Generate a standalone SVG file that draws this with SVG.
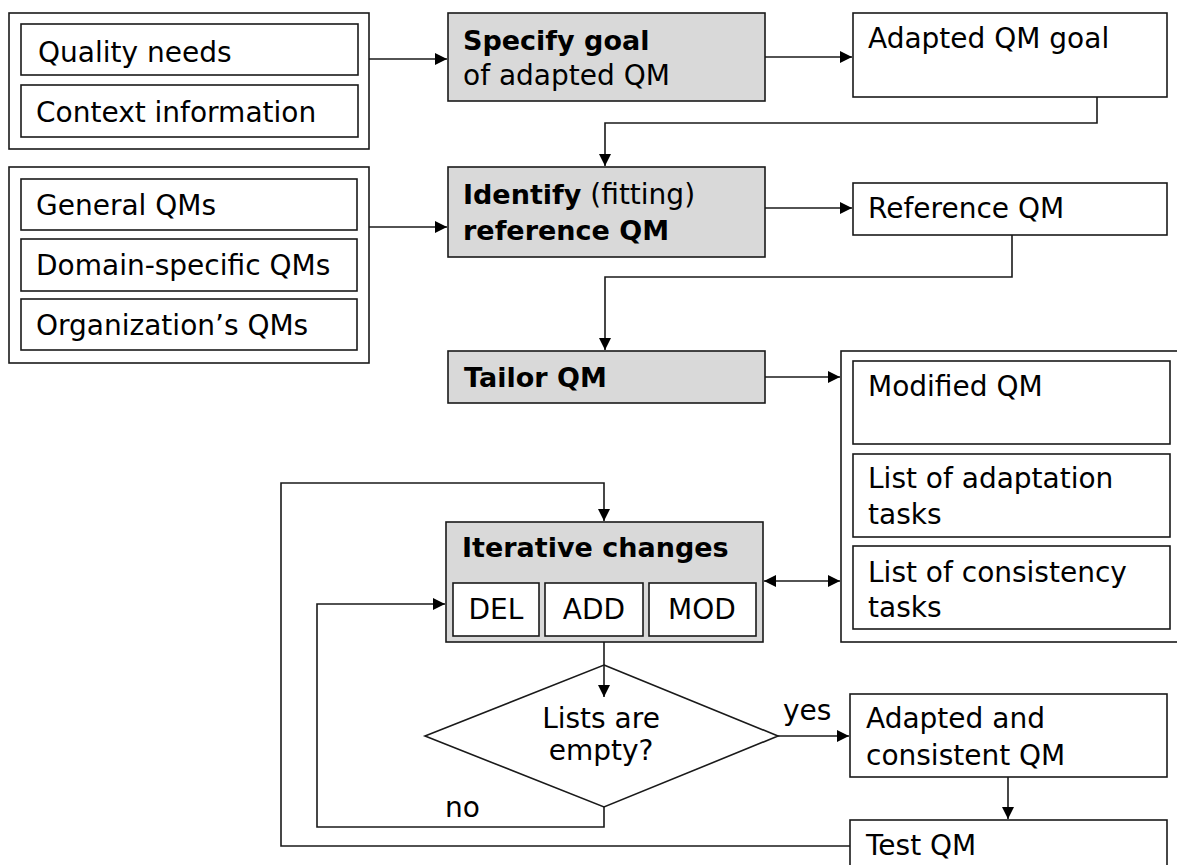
<svg xmlns="http://www.w3.org/2000/svg" width="1177" height="865" viewBox="0 0 1177 865">
<style>
text{font-family:"DejaVu Sans","Liberation Sans",sans-serif;font-size:28px;fill:#000}
.b{font-weight:bold;font-size:27px}
.box{fill:#fff;stroke:#1a1a1a;stroke-width:1.6}
.act{fill:#d9d9d9;stroke:#1a1a1a;stroke-width:1.6}
.c{fill:none;stroke:#1a1a1a;stroke-width:1.6}
.m{text-anchor:middle}
</style>
<defs>
<marker id="ah" viewBox="0 0 12 12" refX="12" refY="6" markerWidth="12" markerHeight="12" markerUnits="userSpaceOnUse" orient="auto-start-reverse"><path d="M0,0 L12,6 L0,12 z" fill="#000"/></marker>
</defs>
<g id="inputs1">
<rect class="box" x="9" y="13" width="360" height="136"/>
<rect class="box" x="21" y="24" width="337" height="51"/>
<text x="38" y="62">Quality needs</text>
<rect class="box" x="21" y="85" width="337" height="52"/>
<text x="36" y="122">Context information</text>
</g>
<g id="inputs2">
<rect class="box" x="9" y="167" width="360" height="196"/>
<rect class="box" x="21" y="179" width="336" height="51"/>
<text x="36" y="215">General QMs</text>
<rect class="box" x="21" y="239" width="336" height="52"/>
<text x="36" y="275">Domain-specific QMs</text>
<rect class="box" x="21" y="299" width="336" height="51"/>
<text x="36" y="335">Organization’s QMs</text>
</g>
<g id="specify">
<rect class="act" x="448" y="13" width="317" height="88"/>
<text class="b" x="463" y="50">Specify goal</text>
<text x="463" y="85">of adapted QM</text>
</g>
<g id="adaptedgoal">
<rect class="box" x="853" y="13" width="314" height="84"/>
<text x="868" y="48">Adapted QM goal</text>
</g>
<g id="identify">
<rect class="act" x="448" y="167" width="317" height="90"/>
<text x="463" y="204"><tspan class="b">Identify</tspan> (fitting)</text>
<text class="b" x="463" y="240">reference QM</text>
</g>
<g id="refqm">
<rect class="box" x="853" y="183" width="314" height="52"/>
<text x="868" y="218">Reference QM</text>
</g>
<g id="tailor">
<rect class="act" x="448" y="351" width="317" height="52"/>
<text class="b" x="464" y="387">Tailor QM</text>
</g>
<g id="outputs">
<rect class="box" x="841" y="351" width="345" height="291"/>
<rect class="box" x="853" y="361" width="317" height="83"/>
<text x="868" y="396">Modified QM</text>
<rect class="box" x="853" y="454" width="317" height="83"/>
<text x="868" y="488">List of adaptation</text>
<text x="868" y="524">tasks</text>
<rect class="box" x="853" y="546" width="317" height="83"/>
<text x="868" y="582">List of consistency</text>
<text x="868" y="617">tasks</text>
</g>
<g id="iterative">
<rect class="act" x="446" y="522" width="317" height="120"/>
<text class="b" x="462" y="557">Iterative changes</text>
<rect class="box" x="453" y="583" width="86" height="53"/>
<text class="m" x="496" y="619">DEL</text>
<rect class="box" x="545" y="583" width="98" height="53"/>
<text class="m" x="594" y="619">ADD</text>
<rect class="box" x="649" y="583" width="107" height="53"/>
<text class="m" x="702" y="619">MOD</text>
</g>
<g id="decision">
<path class="box" d="M604,665 L778,736 L604,807 L425,736 Z"/>
<text class="m" x="601" y="728">Lists are</text>
<text class="m" x="601" y="760">empty?</text>
</g>
<g id="consistent">
<rect class="box" x="850" y="694" width="317" height="83"/>
<text x="866" y="728">Adapted and</text>
<text x="866" y="765">consistent QM</text>
</g>
<g id="test">
<rect class="box" x="850" y="820" width="317" height="50"/>
<text x="866" y="855">Test QM</text>
</g>
<g id="connectors" class="c">
<path class="c" d="M369,59 H447" marker-end="url(#ah)"/>
<path class="c" d="M765,57 H852" marker-end="url(#ah)"/>
<path class="c" d="M1097,97 V123 H605 V166" marker-end="url(#ah)"/>
<path class="c" d="M369,227 H447" marker-end="url(#ah)"/>
<path class="c" d="M765,208 H852" marker-end="url(#ah)"/>
<path class="c" d="M1012,235 V277 H605 V350" marker-end="url(#ah)"/>
<path class="c" d="M765,377 H840" marker-end="url(#ah)"/>
<path class="c" d="M850,846 H281 V483 H604 V521" marker-end="url(#ah)"/>
<path class="c" d="M604,642 V697" marker-end="url(#ah)"/>
<path class="c" d="M604,807 V827 H317 V604 H445" marker-end="url(#ah)"/>
<path class="c" d="M778,736 H849" marker-end="url(#ah)"/>
<path class="c" d="M1008,777 V819" marker-end="url(#ah)"/>
<path class="c" d="M764,581 H840" marker-start="url(#ah)" marker-end="url(#ah)"/>
</g>
<g id="labels">
<text x="783" y="720">yes</text>
<text x="445" y="817">no</text>
</g>
</svg>
